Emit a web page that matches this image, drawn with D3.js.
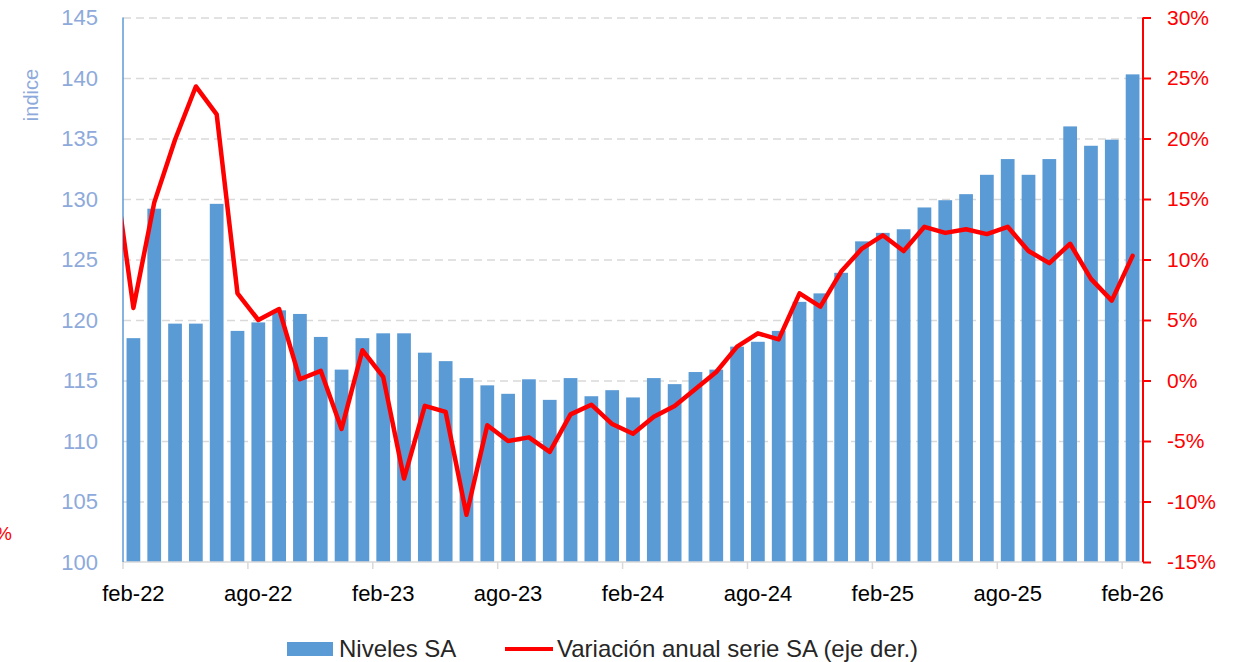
<!DOCTYPE html>
<html lang="es">
<head>
    <meta charset="UTF-8">
    <title>Niveles SA y variación anual</title>
    <script src="https://cdn.jsdelivr.net/npm/d3@7"></script>
    <style>
        body { margin: 0; background: #fff; }
        svg text { font-family: "Liberation Sans", Arial, sans-serif; }
        path.variacion { fill: none; stroke: #ff0000; stroke-width: 4.5px; stroke-linejoin: round; stroke-linecap: round; }
        .grid line { stroke: #d9d9d9; stroke-width: 1.5px; stroke-dasharray: 8 5; }
    </style>
</head>
<body>
<svg width="1243" height="662"></svg>
<script>
    // meses (feb-22 .. feb-26)
    let mesesNombre = ["ene","feb","mar","abr","may","jun","jul","ago","sep","oct","nov","dic"]
    let categorias = d3.timeMonth.range(new Date(2022, 1, 1), new Date(2026, 2, 1))
        .map(function (d) { return mesesNombre[d.getMonth()] + "-" + String(d.getFullYear()).slice(2) })

    let etiquetasX = ["feb-22","ago-22","feb-23","ago-23","feb-24","ago-24","feb-25","ago-25","feb-26"]

    // Niveles SA (indice)
    let niveles = [118.5, 129.2, 119.7, 119.7, 129.6, 119.1, 119.8, 120.8, 120.5, 118.6, 115.9, 118.5,
                   118.9, 118.9, 117.3, 116.6, 115.2, 114.6, 113.9, 115.1, 113.4, 115.2, 113.7, 114.2,
                   113.6, 115.2, 114.7, 115.7, 115.9, 117.8, 118.2, 119.1, 121.5, 122.2, 123.9, 126.5,
                   127.2, 127.5, 129.3, 129.9, 130.4, 132.0, 133.3, 132.0, 133.3, 136.0, 134.4, 134.9,
                   140.3]

    // Variación anual serie SA (%), eje derecho
    let variacion = [6.0, 14.7, 19.9, 24.3, 22.0, 7.2, 5.0, 5.9, 0.1, 0.8, -4.0, 2.5,
                     0.3, -8.1, -2.1, -2.6, -11.1, -3.7, -5.0, -4.7, -5.9, -2.8, -2.0, -3.6,
                     -4.4, -3.0, -2.1, -0.7, 0.7, 2.8, 3.9, 3.4, 7.2, 6.1, 9.0, 10.9,
                     12.0, 10.7, 12.7, 12.2, 12.5, 12.1, 12.7, 10.7, 9.7, 11.3, 8.4, 6.6,
                     10.3]
    // valor de ene-22 (fuera del eje, solo se ve el trazo que entra por la izquierda)
    let variacionPrevia = 18.5

    let ticksIzq = d3.range(100, 146, 5)
    let ticksDer = d3.range(-15, 31, 5)

    let svg = d3.select('svg')
    let plot = {left: 123, right: 1143, top: 17.5, bottom: 562}

    let x = d3.scaleBand().domain(categorias).range([plot.left, plot.right])
        .paddingInner(0.34).paddingOuter(0.17)
    let yIzq = d3.scaleLinear().domain([100, 145]).range([plot.bottom, plot.top])
    let yDer = d3.scaleLinear().domain([-15, 30]).range([plot.bottom, plot.top])

    let gap = (x.step() - x.bandwidth()) / 2
    let centro = function (c) { return x(c) + x.bandwidth() / 2 }

    //gridlines
    svg.append('g').attr('class', 'grid')
        .attr('transform', 'translate(' + plot.left + ',0)')
        .call(d3.axisLeft(yIzq).tickValues(ticksIzq.filter(function (d) { return d > 100 }))
            .tickSize(-(plot.right - plot.left)).tickFormat(''))
        .call(function (g) { g.select('.domain').remove() })

    //bars
    svg.append('g').selectAll('rect')
        .data(niveles)
        .join('rect')
        .attr('x', function (d, i) { return x(categorias[i]) })
        .attr('width', x.bandwidth())
        .attr('y', function (d) { return yIzq(d) })
        .attr('height', function (d) { return yIzq(100) - yIzq(d) })
        .attr('fill', '#5b9bd5')

    //x axis baseline + ticks between categories
    svg.append('line')
        .attr('x1', plot.left).attr('x2', plot.right)
        .attr('y1', plot.bottom).attr('y2', plot.bottom)
        .attr('stroke', '#d9d9d9').attr('stroke-width', 1.5)

    svg.append('g').selectAll('line')
        .data(etiquetasX)
        .join('line')
        .attr('x1', function (d) { return x(d) - gap }).attr('x2', function (d) { return x(d) - gap })
        .attr('y1', plot.bottom).attr('y2', plot.bottom + 7)
        .attr('stroke', '#d9d9d9').attr('stroke-width', 1.5)

    let xAxis = svg.append('g').attr('transform', 'translate(0,' + plot.bottom + ')')
        .call(d3.axisBottom(x).tickValues(etiquetasX).tickSize(0).tickPadding(0))
    xAxis.select('.domain').remove()
    xAxis.selectAll('text').attr('y', 39).attr('dy', null)
        .style('font-size', '22px').attr('fill', '#000')

    //left axis
    let ejeIzq = svg.append('g').attr('transform', 'translate(' + plot.left + ',0)')
        .call(d3.axisLeft(yIzq).tickValues(ticksIzq).tickSize(0).tickPadding(25))
    ejeIzq.select('.domain').remove()
    ejeIzq.selectAll('text').style('font-size', '22px').attr('fill', '#8eaadb')
    svg.append('line')
        .attr('x1', plot.left).attr('x2', plot.left)
        .attr('y1', plot.top).attr('y2', plot.bottom)
        .attr('stroke', '#5b9bd5').attr('stroke-width', 1.5)

    svg.append('text')
        .attr('transform', 'translate(38,95) rotate(-90)')
        .attr('text-anchor', 'middle')
        .style('font-size', '20px').attr('fill', '#8eaadb')
        .text('indice')

    // trozo de texto rojo en el borde izquierdo
    svg.append('text').attr('x', -5).attr('y', 540)
        .style('font-size', '19px').attr('fill', '#ff0000').text('%')

    //line (clipped to plot area)
    svg.append('clipPath').attr('id', 'clip')
        .append('rect').attr('x', plot.left).attr('y', 0)
        .attr('width', plot.right - plot.left).attr('height', 662)

    let puntos = [[centro(categorias[0]) - x.step(), yDer(variacionPrevia)]]
    variacion.forEach(function (v, i) { puntos.push([centro(categorias[i]), yDer(v)]) })

    svg.append('path')
        .attr('class', 'variacion')
        .attr('clip-path', 'url(#clip)')
        .attr('d', d3.line()(puntos))

    //right axis
    let ejeDer = svg.append('g').attr('transform', 'translate(' + plot.right + ',0)')
        .call(d3.axisRight(yDer).tickValues(ticksDer).tickSize(8).tickPadding(16)
            .tickFormat(function (d) { return d + '%' }))
    ejeDer.select('.domain').attr('stroke', '#ff0000').attr('stroke-width', 2)
        .attr('d', 'M0,' + plot.top + 'V' + plot.bottom)
    ejeDer.selectAll('.tick line').attr('stroke', '#ff0000').attr('stroke-width', 2)
    ejeDer.selectAll('text').style('font-size', '21px').attr('fill', '#ff0000')

    //legend
    let leyenda = svg.append('g')
    leyenda.append('rect').attr('x', 287).attr('y', 642).attr('width', 46).attr('height', 14)
        .attr('fill', '#5b9bd5')
    leyenda.append('text').attr('x', 339).attr('y', 657)
        .style('font-size', '24px').attr('fill', '#262626').text('Niveles SA')
    leyenda.append('line').attr('x1', 505).attr('x2', 553).attr('y1', 649).attr('y2', 649)
        .attr('stroke', '#ff0000').attr('stroke-width', 4)
    leyenda.append('text').attr('x', 557).attr('y', 657)
        .style('font-size', '24px').attr('fill', '#262626').text('Variación anual serie SA (eje der.)')
</script>
</body>
</html>
